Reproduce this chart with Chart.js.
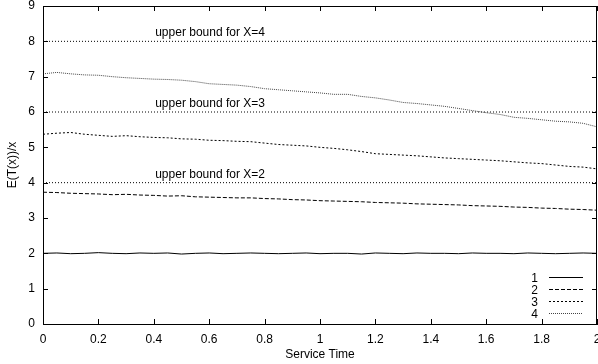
<!DOCTYPE html>
<html>
<head>
<meta charset="utf-8">
<script src="https://cdn.jsdelivr.net/npm/chart.js@4/dist/chart.umd.min.js"></script>
<style>
  body { margin: 0; background: #fff; }
</style>
</head>
<body>
<canvas id="chart" width="598" height="364"></canvas>
<script>
// service time values
const serviceTime = [0, 0.05, 0.1, 0.15, 0.2, 0.25, 0.3, 0.35, 0.4, 0.45, 0.5, 0.55, 0.6, 0.65, 0.7, 0.75, 0.8, 0.85, 0.9, 0.95,
  1, 1.05, 1.1, 1.15, 1.2, 1.25, 1.3, 1.35, 1.4, 1.45, 1.5, 1.55, 1.6, 1.65, 1.7, 1.75, 1.8, 1.85, 1.9, 1.95, 2];

const series1 = [2.00, 2.01, 1.99, 2.00, 2.02, 2.00, 1.99, 2.01, 2.00, 2.01, 1.98, 2.00, 2.01, 1.99, 2.00, 2.01, 2.00, 1.99, 2.00, 2.01,
  1.99, 2.00, 2.00, 1.98, 2.01, 2.00, 1.99, 2.01, 2.00, 2.00, 1.99, 2.01, 2.00, 2.00, 1.99, 2.01, 2.00, 1.99, 2.00, 2.01, 2.00];
const series2 = [3.73, 3.72, 3.70, 3.69, 3.68, 3.66, 3.67, 3.65, 3.64, 3.62, 3.63, 3.60, 3.59, 3.58, 3.57, 3.57, 3.55, 3.54, 3.52, 3.51,
  3.49, 3.48, 3.47, 3.46, 3.44, 3.43, 3.42, 3.40, 3.39, 3.38, 3.37, 3.35, 3.34, 3.33, 3.31, 3.30, 3.28, 3.27, 3.25, 3.24, 3.22];
const series3 = [5.37, 5.40, 5.42, 5.37, 5.34, 5.31, 5.33, 5.30, 5.28, 5.27, 5.24, 5.23, 5.20, 5.19, 5.17, 5.16, 5.12, 5.08, 5.06, 5.04,
  5.00, 4.97, 4.93, 4.88, 4.82, 4.80, 4.78, 4.76, 4.73, 4.70, 4.68, 4.66, 4.64, 4.62, 4.59, 4.56, 4.54, 4.50, 4.46, 4.44, 4.39];
const series4 = [7.08, 7.12, 7.08, 7.05, 7.04, 7.00, 6.97, 6.95, 6.93, 6.92, 6.90, 6.86, 6.80, 6.78, 6.76, 6.72, 6.66, 6.63, 6.60, 6.57,
  6.54, 6.50, 6.50, 6.44, 6.40, 6.34, 6.27, 6.24, 6.20, 6.16, 6.10, 6.04, 5.98, 5.93, 5.85, 5.82, 5.78, 5.74, 5.72, 5.68, 5.58];

const seriesNames = ['1', '2', '3', '4'];
const upperBounds = [4, 6, 8];
const boundLabels = ['upper bound for X=2', 'upper bound for X=3', 'upper bound for X=4'];
const boundLabelX = 0.405;

const xTicks = [0, 0.2, 0.4, 0.6, 0.8, 1, 1.2, 1.4, 1.6, 1.8, 2];
const yTicks = [0, 1, 2, 3, 4, 5, 6, 7, 8, 9];

const FONT = 'Liberation Sans, Arial, Helvetica, sans-serif';

function points(ys) {
  return ys.map((y, i) => ({ x: serviceTime[i], y: y }));
}

const lineStyles = [
  { color: '#000', dash: [] },
  { color: '#000', dash: [4, 2] },
  { color: '#000', dash: [2, 2] },
  { color: '#444', dash: [1, 1] }
];

const datasets = [series1, series2, series3, series4].map((s, i) => ({
  label: seriesNames[i],
  data: points(s),
  borderColor: lineStyles[i].color,
  borderDash: lineStyles[i].dash,
  borderWidth: 1,
  pointRadius: 0,
  tension: 0
}));

upperBounds.forEach(b => {
  datasets.push({
    label: 'bound',
    data: [{ x: xTicks[0], y: b }, { x: xTicks[xTicks.length - 1], y: b }],
    borderColor: '#000',
    borderDash: [1, 2],
    borderWidth: 1,
    pointRadius: 0,
    isBound: true
  });
});

// gnuplot-ish decorations: box, inward ticks, mirror ticks, labels, legend
const decor = {
  id: 'decor',
  afterDraw(chart) {
    const ctx = chart.ctx;
    const a = chart.chartArea;
    const xs = chart.scales.x, ys = chart.scales.y;
    ctx.save();
    ctx.strokeStyle = '#000';
    ctx.lineWidth = 1;
    ctx.setLineDash([]);
    ctx.strokeRect(Math.round(a.left) + 0.5, Math.round(a.top) + 0.5,
      Math.round(a.right - a.left) - 1, Math.round(a.bottom - a.top));

    ctx.beginPath();
    xs.ticks.forEach(t => {
      const px = Math.round(xs.getPixelForValue(t.value)) + 0.5;
      ctx.moveTo(px, a.bottom); ctx.lineTo(px, a.bottom - 5);
      ctx.moveTo(px, a.top); ctx.lineTo(px, a.top + 5);
    });
    ys.ticks.forEach(t => {
      const py = Math.round(ys.getPixelForValue(t.value)) + 0.5;
      ctx.moveTo(a.left, py); ctx.lineTo(a.left + 5, py);
      ctx.moveTo(a.right, py); ctx.lineTo(a.right - 5, py);
    });
    ctx.stroke();

    ctx.font = '12px ' + FONT;
    ctx.fillStyle = '#000';
    ctx.textAlign = 'left';
    ctx.textBaseline = 'alphabetic';
    upperBounds.forEach((b, i) => {
      ctx.fillText(boundLabels[i], xs.getPixelForValue(boundLabelX), ys.getPixelForValue(b) - 5);
    });

    // legend
    ctx.textAlign = 'right';
    ctx.textBaseline = 'middle';
    seriesNames.forEach((n, i) => {
      const y = Math.round(a.bottom - 47 + i * 12) + 0.5;
      ctx.fillText(n, a.right - 59, y + 1);
      ctx.beginPath();
      ctx.strokeStyle = lineStyles[i].color;
      ctx.setLineDash(lineStyles[i].dash);
      ctx.moveTo(a.right - 48, y);
      ctx.lineTo(a.right - 14, y);
      ctx.stroke();
    });
    ctx.restore();
  }
};

new Chart(document.getElementById('chart').getContext('2d'), {
  type: 'line',
  data: { datasets: datasets },
  options: {
    responsive: false,
    animation: false,
    layout: { padding: { left: 0, right: 1, top: 6, bottom: 0 } },
    plugins: { legend: { display: false }, tooltip: { enabled: false } },
    scales: {
      x: {
        type: 'linear',
        min: 0, max: 2,
        afterBuildTicks: s => { s.ticks = xTicks.map(v => ({ value: v })); },
        afterFit: s => { s.height = 40; s.paddingLeft = 0; s.paddingRight = 0; },
        grid: { drawOnChartArea: false, drawTicks: false },
        border: { display: true, color: '#000' },
        ticks: { padding: 8, color: '#000', font: { family: FONT, size: 12 }, maxRotation: 0, autoSkip: false,
          callback: v => String(v) },
        title: { display: true, text: 'Service Time', color: '#000', font: { family: FONT, size: 12 },
          padding: { top: 0, bottom: 2 } }
      },
      y: {
        type: 'linear',
        min: 0, max: 9,
        afterBuildTicks: s => { s.ticks = yTicks.map(v => ({ value: v })); },
        afterFit: s => { s.width = 43; s.paddingTop = 0; s.paddingBottom = 0; },
        grid: { drawOnChartArea: false, drawTicks: false },
        border: { display: true, color: '#000' },
        ticks: { padding: 8, color: '#000', font: { family: FONT, size: 12 }, autoSkip: false,
          callback: v => String(v) },
        title: { display: true, text: 'E(T(x))/x', color: '#000', font: { family: FONT, size: 12 },
          padding: { top: 5, bottom: 0 } }
      }
    }
  },
  plugins: [decor]
});
</script>
</body>
</html>
